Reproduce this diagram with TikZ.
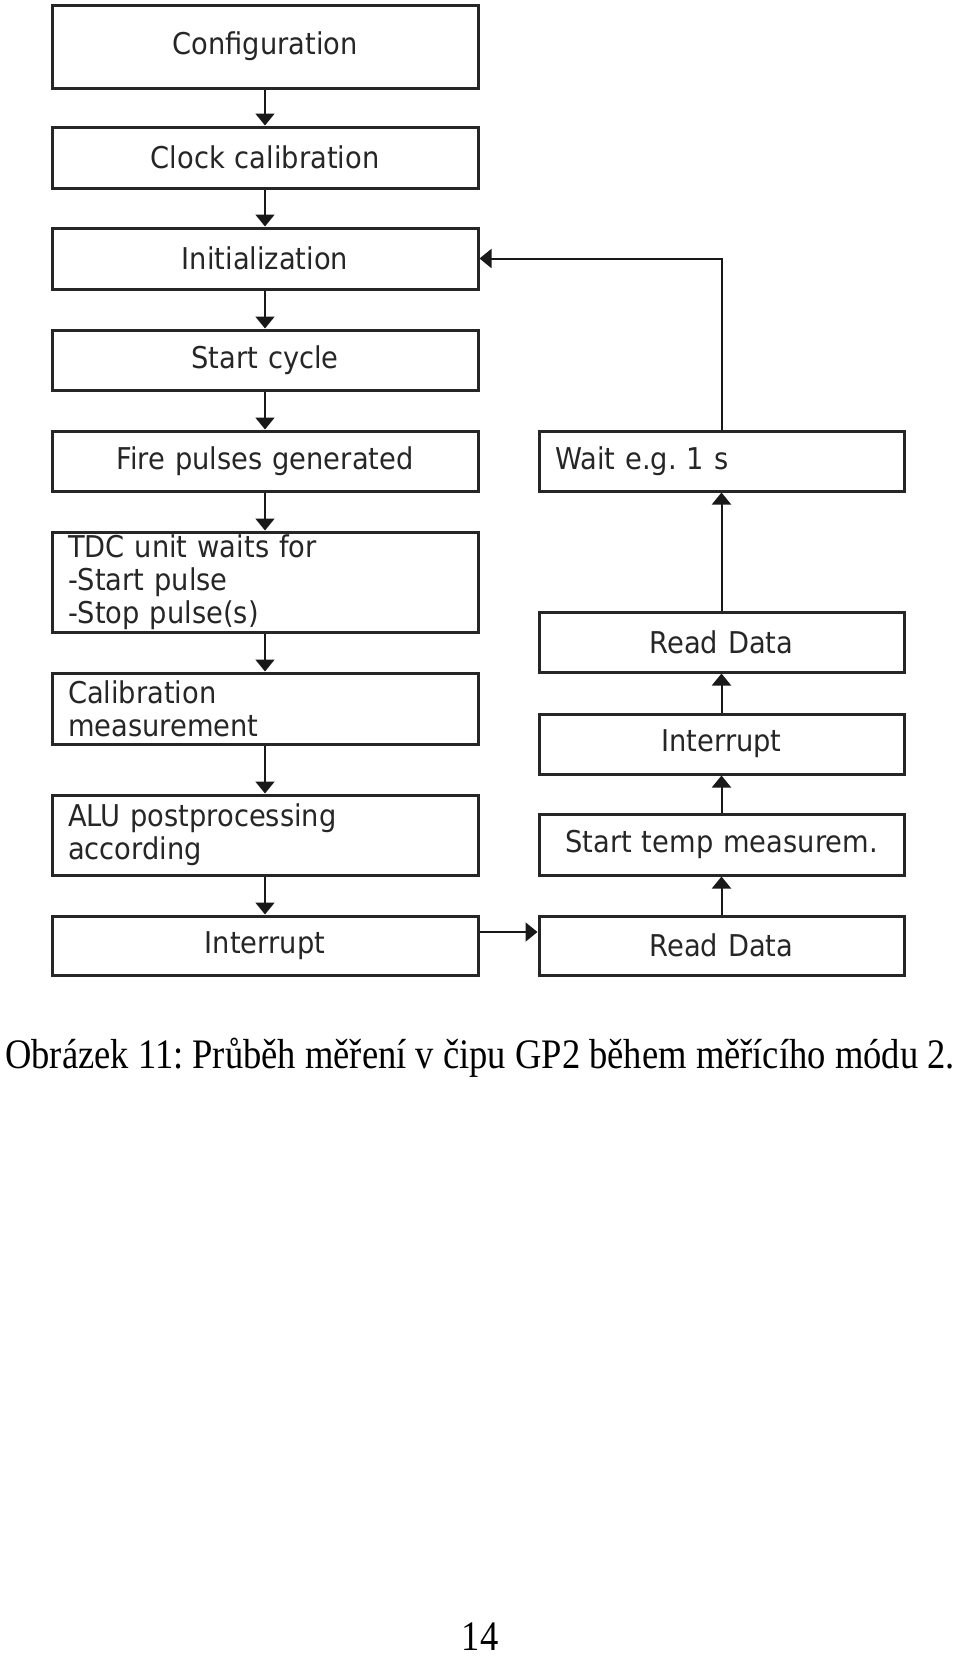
\documentclass[tikz,border=0pt]{standalone}
\usepackage{fontspec}
\usetikzlibrary{arrows.meta}
\newfontfamily\boxfont{DejaVu Sans}[FakeStretch=0.91]
\newfontfamily\capfont{Liberation Serif}[FakeStretch=0.87]
\frenchspacing
\begin{document}
\begin{tikzpicture}[x=1pt,y=-1pt,
  flowbox/.style={draw=black!85, line width=3pt, rectangle, inner xsep=16pt, inner ysep=0pt,
    font=\boxfont\fontsize{30}{33}\selectfont, text=black!85},
  lbox/.style={flowbox, text width=394pt},
  rbox/.style={flowbox, text width=333pt},
  flowarrow/.style={line width=2pt, draw=black!90, -{Triangle[width=19pt,length=12pt]}}
]
\useasboundingbox (0,0) rectangle (960,1657);
% left column
\node[lbox, align=center, minimum height=83pt] (conf) at (265,46.5) {Configuration};
\node[lbox, align=center, minimum height=61pt] (clock) at (265,157.5) {Clock calibration};
\node[lbox, align=center, minimum height=61pt] (init) at (265,258.5) {Initialization};
\node[lbox, align=center, minimum height=60pt] (start) at (265,360) {Start cycle};
\node[lbox, align=center, minimum height=60pt] (fire) at (265,461) {Fire pulses generated};
\node[lbox, align=left, minimum height=100pt] (tdc) at (265,582) {TDC unit waits for\\-Start pulse\\-Stop pulse(s)};
\node[lbox, align=left, minimum height=71pt] (calib) at (265,708.5) {Calibration\\measurement};
\node[lbox, align=left, minimum height=80pt] (alu) at (265,835) {ALU postprocessing\\according};
\node[lbox, align=center, minimum height=59pt] (intl) at (265,945.5) {Interrupt};
% right column
\node[rbox, align=left, minimum height=60pt] (wait) at (721.5,461) {Wait e.g. 1 s};
\node[rbox, align=center, minimum height=60pt] (rd1) at (721.5,642) {Read Data};
\node[rbox, align=center, minimum height=60pt] (intr) at (721.5,744) {Interrupt};
\node[rbox, align=center, minimum height=61pt] (temp) at (721.5,844.5) {Start temp measurem.};
\node[rbox, align=center, minimum height=59pt] (rd2) at (721.5,945.5) {Read Data};
% arrows left
\draw[flowarrow] (conf) -- (clock);
\draw[flowarrow] (clock) -- (init);
\draw[flowarrow] (init) -- (start);
\draw[flowarrow] (start) -- (fire);
\draw[flowarrow] (fire) -- (tdc);
\draw[flowarrow] (tdc) -- (calib);
\draw[flowarrow] (calib) -- (alu);
\draw[flowarrow] (alu) -- (intl);
% cross arrow
\draw[flowarrow] (intl.east |- 0,932) -- (rd2.west |- 0,932);
% arrows right
\draw[flowarrow] (rd2) -- (temp);
\draw[flowarrow] (temp) -- (intr);
\draw[flowarrow] (intr) -- (rd1);
\draw[flowarrow] (rd1) -- (wait);
\draw[flowarrow] (wait.north) |- (init.east);
% caption
\node[anchor=base, font=\capfont\fontsize{42}{48}\selectfont, inner sep=0pt] (cap) at (480,1068) {Obrázek 11: Průběh měření v čipu GP2 během měřícího módu 2.};
\node[anchor=base, font=\capfont\fontsize{42}{48}\selectfont, inner sep=0pt] (page) at (480,1650) {14};
\end{tikzpicture}
\end{document}
